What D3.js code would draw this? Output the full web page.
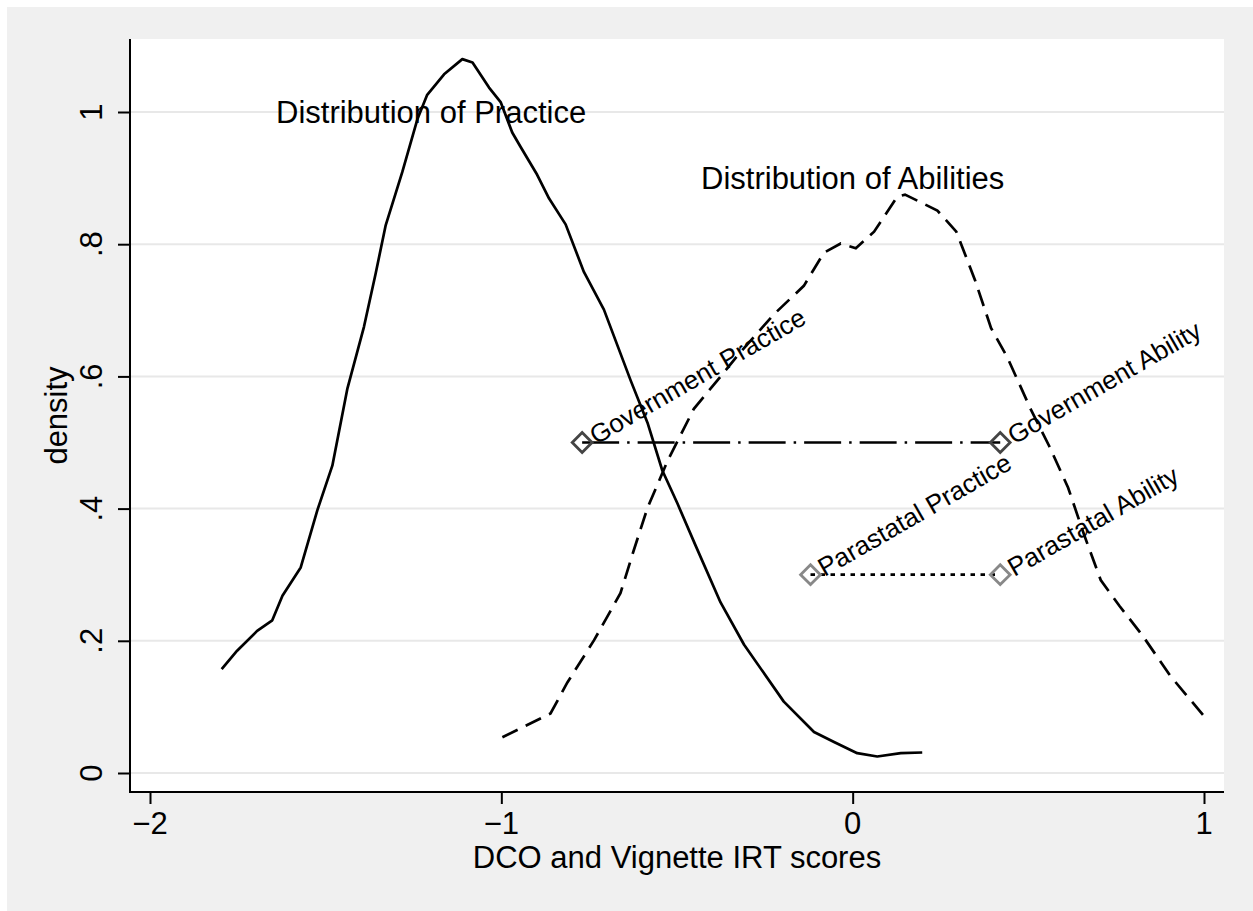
<!DOCTYPE html>
<html>
<head>
<meta charset="utf-8">
<script src="https://cdn.jsdelivr.net/npm/d3@7"></script>
<style>
  body { margin: 0; background: #fff; }
  svg { display: block; font-family: "Liberation Sans", Arial, sans-serif; }
</style>
</head>
<body>
<svg id="chart" width="1253" height="911"></svg>
<script>
// kernel density of practice (DCO) scores
const practiceX = [-1.796, -1.752, -1.695, -1.652, -1.623, -1.571, -1.524, -1.481, -1.438, -1.391,
  -1.358, -1.329, -1.282, -1.239, -1.211, -1.163, -1.111, -1.082, -1.035, -1.002,
  -0.969, -0.945, -0.898, -0.864, -0.817, -0.765, -0.708, -0.632, -0.584, -0.542,
  -0.499, -0.447, -0.376, -0.309, -0.196, -0.110, -0.053, 0.013, 0.070, 0.137, 0.198]
const practiceY = [0.157, 0.185, 0.215, 0.231, 0.268, 0.311, 0.397, 0.465, 0.582, 0.675,
  0.755, 0.829, 0.909, 0.989, 1.026, 1.057, 1.080, 1.075, 1.037, 1.015,
  0.969, 0.947, 0.905, 0.869, 0.830, 0.758, 0.701, 0.594, 0.530, 0.458,
  0.408, 0.344, 0.258, 0.194, 0.108, 0.062, 0.047, 0.030, 0.025, 0.030, 0.031]

// kernel density of vignette (ability) scores
const abilityX = [-0.997, -0.860, -0.812, -0.736, -0.661, -0.623, -0.584, -0.527, -0.452, -0.385,
  -0.319, -0.224, -0.139, -0.082, -0.034, 0.009, 0.061, 0.127, 0.149, 0.241,
  0.295, 0.348, 0.394, 0.441, 0.507, 0.560, 0.613, 0.659, 0.706, 0.759,
  0.825, 0.904, 0.997]
const abilityY = [0.054, 0.090, 0.137, 0.201, 0.272, 0.337, 0.401, 0.472, 0.551, 0.594,
  0.637, 0.694, 0.737, 0.787, 0.801, 0.794, 0.819, 0.872, 0.875, 0.851,
  0.819, 0.746, 0.673, 0.628, 0.550, 0.494, 0.432, 0.360, 0.292, 0.253,
  0.208, 0.147, 0.088]

// mean scores by sector
const pointLabels = ["Government Practice", "Government Ability", "Parastatal Practice", "Parastatal Ability"]
const pointX = [-0.77, 0.42, -0.12, 0.42]
const pointY = [0.5, 0.5, 0.3, 0.3]

const xTicks = [-2, -1, 0, 1]
const yTicks = [0, 0.2, 0.4, 0.6, 0.8, 1]
const yTickLabels = ["0", ".2", ".4", ".6", ".8", "1"]

const svg = d3.select("#chart")
const W = 1253, H = 911
const plot = {left: 130, top: 39, right: 1224, bottom: 792}

// outer grey graph region and white plot region
svg.append("rect").attr("x", 7).attr("y", 7).attr("width", W - 7).attr("height", H - 7).attr("fill", "#f0f0f0")
svg.append("rect").attr("x", plot.left).attr("y", plot.top)
  .attr("width", plot.right - plot.left).attr("height", plot.bottom - plot.top).attr("fill", "#fff")

const x = d3.scaleLinear().domain([-2, 1]).range([150, 1204])
const y = d3.scaleLinear().domain([0, 1]).range([773, 112])

// gridlines
svg.append("g").selectAll("line").data(yTicks).enter().append("line")
  .attr("x1", plot.left).attr("x2", plot.right)
  .attr("y1", d => y(d)).attr("y2", d => y(d))
  .attr("stroke", "#e8e8e8").attr("stroke-width", 2)

// y axis
const yAxis = svg.append("g").attr("transform", `translate(${plot.left},0)`)
  .call(d3.axisLeft(y).tickValues(yTicks).tickSize(12).tickFormat(""))
yAxis.select(".domain").remove()
yAxis.selectAll(".tick line").attr("stroke", "#000").attr("stroke-width", 2)
svg.append("line").attr("x1", plot.left).attr("x2", plot.left).attr("y1", plot.top).attr("y2", plot.bottom + 1)
  .attr("stroke", "#000").attr("stroke-width", 2)
svg.append("g").selectAll("text").data(yTicks).enter().append("text")
  .attr("transform", d => `translate(102,${y(d)}) rotate(-90)`)
  .attr("text-anchor", "middle").attr("font-size", 31)
  .text((d, i) => yTickLabels[i])

// x axis
const xAxis = svg.append("g").attr("transform", `translate(0,${plot.bottom})`)
  .call(d3.axisBottom(x).tickValues(xTicks).tickSize(12).tickFormat(""))
xAxis.select(".domain").remove()
xAxis.selectAll(".tick line").attr("stroke", "#000").attr("stroke-width", 2)
svg.append("line").attr("x1", plot.left - 1).attr("x2", plot.right).attr("y1", plot.bottom).attr("y2", plot.bottom)
  .attr("stroke", "#000").attr("stroke-width", 2)
svg.append("g").selectAll("text").data(xTicks).enter().append("text")
  .attr("x", d => x(d)).attr("y", 834)
  .attr("text-anchor", "middle").attr("font-size", 31)
  .text(d => d < 0 ? "\u2212" + Math.abs(d) : d)

// axis titles
svg.append("text").attr("x", (plot.left + plot.right) / 2).attr("y", 868)
  .attr("text-anchor", "middle").attr("font-size", 31).text("DCO and Vignette IRT scores")
svg.append("text").attr("transform", `translate(67,${(plot.top + plot.bottom) / 2}) rotate(-90)`)
  .attr("text-anchor", "middle").attr("font-size", 31).text("density")

// density curves
const line = d3.line().x(d => x(d[0])).y(d => y(d[1]))
svg.append("path").datum(d3.zip(practiceX, practiceY)).attr("d", line)
  .attr("fill", "none").attr("stroke", "#000").attr("stroke-width", 2.7).attr("stroke-linejoin", "round")
svg.append("path").datum(d3.zip(abilityX, abilityY)).attr("d", line)
  .attr("fill", "none").attr("stroke", "#000").attr("stroke-width", 2.7)
  .attr("stroke-dasharray", "17,9")

// connecting lines between practice and ability means
svg.append("line").attr("x1", x(pointX[0])).attr("x2", x(pointX[1]))
  .attr("y1", y(pointY[0])).attr("y2", y(pointY[1]))
  .attr("stroke", "#000").attr("stroke-width", 2.7).attr("stroke-dasharray", "37,8,2.5,8")
svg.append("line").attr("x1", x(pointX[2])).attr("x2", x(pointX[3]))
  .attr("y1", y(pointY[2])).attr("y2", y(pointY[3]))
  .attr("stroke", "#000").attr("stroke-width", 2.7).attr("stroke-dasharray", "4.5,5.5")

// diamond markers with angled labels
const pts = pointLabels.map((lab, i) => ({lab, x: pointX[i], y: pointY[i], gov: i < 2}))
const diamond = d3.symbol().type(d3.symbolDiamond2).size(250)
const pg = svg.append("g").selectAll("g").data(pts).enter().append("g")
  .attr("transform", d => `translate(${x(d.x)},${y(d.y)})`)
pg.append("path").attr("d", diamond)
  .attr("fill", "none").attr("stroke", d => d.gov ? "#444" : "#888").attr("stroke-width", 2.8)
pg.append("text").attr("transform", "rotate(-30)")
  .attr("x", 11).attr("dy", "0.35em").attr("font-size", 26)
  .text(d => d.lab)

// annotations
svg.append("text").attr("x", x(-1.2)).attr("y", y(1)).attr("dy", "0.35em")
  .attr("text-anchor", "middle").attr("font-size", 31).text("Distribution of Practice")
svg.append("text").attr("x", x(0)).attr("y", y(0.9)).attr("dy", "0.35em")
  .attr("text-anchor", "middle").attr("font-size", 31).text("Distribution of Abilities")
</script>
</body>
</html>
